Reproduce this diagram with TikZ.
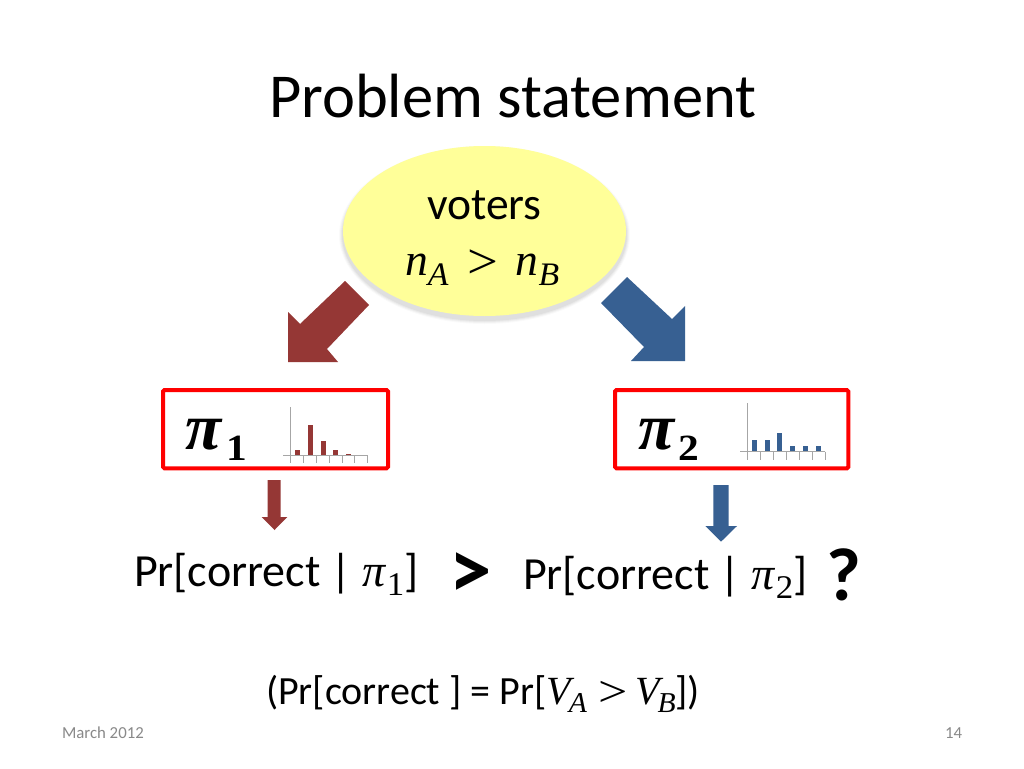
\documentclass[tikz,border=0pt]{standalone}
\usepackage{fontspec}
\usetikzlibrary{shapes.geometric}
\setmainfont{Carlito}
\newfontfamily\mfont{Liberation Serif}
\newcommand{\vi}[1]{{\mfont\itshape #1}}
\newcommand{\sbA}[1]{\raisebox{-0.22em}{\scalebox{0.74}[0.72]{\mfont\itshape #1}}}
\newcommand{\sbN}[1]{\raisebox{-0.2em}{\scalebox{0.76}[0.72]{\mfont #1}}}
\newcommand{\gtsym}[3]{\hspace{#2em}\raisebox{-0.07em}{\scalebox{#1}[1.1]{\mfont >}}\hspace{#3em}}
\definecolor{redarrow}{HTML}{953735}
\definecolor{bluearrow}{HTML}{376092}
\definecolor{ovalfill}{HTML}{FFFF99}
\definecolor{framered}{HTML}{FF0000}
\definecolor{axisgrey}{HTML}{A6A6A6}
\definecolor{footgrey}{HTML}{898989}
\tikzset{
  x=1pt,y=-1pt,
  txt/.style={inner sep=0pt,outer sep=0pt,anchor=base west,text=black},
  framebox/.style={draw=framered,line width=4pt,rounded corners=1.5pt,fill=white},
  axisline/.style={draw=axisgrey,line width=0.9pt},
}
\begin{document}
\begin{tikzpicture}
\useasboundingbox (0,0) rectangle (1024,768);
\fill[white] (0,0) rectangle (1024,768);
% title
\node[txt] (title) at (269,117) {\fontsize{62.5}{70}\selectfont Problem statement};
% voter ellipse with soft shadow
\foreach \g/\o in {4/0.02,3/0.03,2/0.035,1/0.04}
  \fill[black,opacity=\o] (484.5,235) ellipse ({141.5+\g} and {85+\g});
\node[fill=ovalfill,ellipse,inner sep=0pt,minimum width=283pt,minimum height=170pt] (oval) at (484.5,231) {};
\node[txt] (voters) at (427,219) {\fontsize{45.6}{52}\selectfont voters};
\node[txt] (nab) at (405,275) {\fontsize{45.6}{52}\selectfont \vi{n}\sbA{A}\gtsym{1.2}{0.42}{0.38}\vi{n}\sbA{B}};
% block arrows
\fill[redarrow] (345,281) -- (369,305) -- (327,349) -- (338,362) -- (288,362) -- (288,312) -- (300,324) -- cycle;
\fill[bluearrow] (627,277) -- (672,319) -- (685,306) -- (685,361) -- (631,361) -- (644,347) -- (601,303) -- cycle;
% frames
\draw[framebox] (163,390) rectangle (388,468.4);
\draw[framebox] (615,390) rectangle (848.4,468.4);
\node[txt] (pi1) at (185,449) {\fontsize{66}{70}\selectfont\mfont\bfseries\itshape π};
\node[txt] (one) at (226,460) {\fontsize{37}{50}\selectfont\mfont\bfseries\scalebox{1.12}[1]{1}};
\node[txt] (pi2) at (638,449) {\fontsize{66}{70}\selectfont\mfont\bfseries\itshape π};
\node[txt] (two) at (678,460) {\fontsize{37}{50}\selectfont\mfont\bfseries\scalebox{1.12}[1]{2}};
% left histogram
\foreach \c/\t in {297/450,310/425,323/440.7,335.7/450,348.3/454,361.3/454.7}
  \fill[redarrow] (\c-2.5,\t) rectangle (\c+2.5,455.7);
\draw[axisline] (290.7,407) -- (290.7,463);
\draw[axisline] (283,455.7) -- (367.7,455.7);
\foreach \c in {303.3,316.3,329,342,354.7,367.7}
  \draw[axisline] (\c,455.7) -- (\c,463);
% right histogram
\foreach \c/\t in {754/440,767/440,779.7/433.3,792.7/446,805.3/446,818.3/446}
  \fill[bluearrow] (\c-2.5,\t) rectangle (\c+2.5,451.7);
\draw[axisline] (747.7,403) -- (747.7,460);
\draw[axisline] (740,451.7) -- (825,451.7);
\foreach \c in {760.7,773.3,786,799,812,825}
  \draw[axisline] (\c,451.7) -- (\c,460);
% small arrows
\fill[redarrow] (267.7,480) -- (280.7,480) -- (280.7,517) -- (287.3,517) -- (274.5,530) -- (261.7,517) -- (267.7,517) -- cycle;
\fill[bluearrow] (713.3,485) -- (728.7,485) -- (728.7,526) -- (737,526) -- (721,541.7) -- (705.3,526) -- (713.3,526) -- cycle;
% probabilities
\node[txt] (prl) at (134,586) {\fontsize{46}{52}\selectfont Pr[correct | \vi{π}\hspace{0.03em}\sbN{1}]};
\node[txt] (gt) at (449,598) {\fontsize{85}{90}\selectfont\bfseries >};
\node[txt] (prr) at (523,589) {\fontsize{46}{52}\selectfont Pr[correct | \vi{π}\hspace{0.03em}\sbN{2}]};
\node[txt] (q) at (826,600) {\fontsize{75}{80}\selectfont\bfseries ?};
\node[txt] (formula) at (266,704) {\fontsize{40}{46}\selectfont (Pr[correct ] = Pr[\vi{V}\hspace{-2pt}\sbA{A}\gtsym{1.3}{0.28}{0.19}\vi{V}\hspace{-2pt}\sbA{B}])};
% footer
\node[txt,text=footgrey] (date) at (62,738) {\fontsize{16.8}{20}\selectfont March 2012};
\node[txt,text=footgrey] (page) at (945,738) {\fontsize{16.8}{20}\selectfont 14};
\end{tikzpicture}
\end{document}
